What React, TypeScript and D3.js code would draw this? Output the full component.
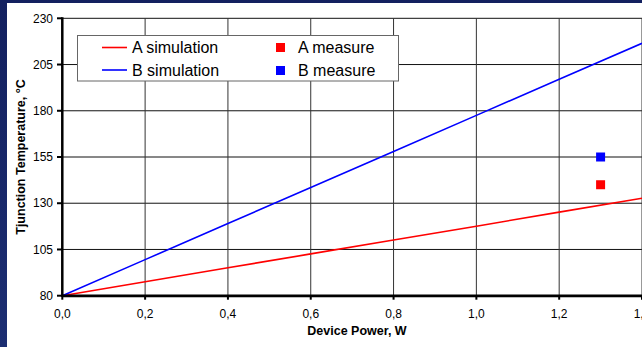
import React from "react";
import * as d3 from "d3";

const powerW = [0.0, 0.2, 0.4, 0.6, 0.8, 1.0, 1.2, 1.4];
const aSimulation = [80, 87.5, 95.1, 102.6, 110.1, 117.6, 125.2, 132.7];
const bSimulation = [80, 99.5, 119.0, 138.5, 158.0, 177.5, 197.0, 216.5];
const aMeasure = [{ x: 1.3, y: 140 }];
const bMeasure = [{ x: 1.3, y: 155 }];
const yTicks = [80, 105, 130, 155, 180, 205, 230];
const xTicks = [0, 0.2, 0.4, 0.6, 0.8, 1.0, 1.2, 1.4];

const W = 642;
const H = 347;
const FONT = "'Liberation Sans', Arial, sans-serif";

export default function App() {
  const x = d3.scaleLinear().domain([0, 1.4]).range([62.3, 642]);
  const y = d3.scaleLinear().domain([80, 230]).range([295.7, 18.3]);
  const line = d3
    .line<number>()
    .x((_, i) => x(powerW[i]))
    .y((d) => y(d));
  const fmt = (v: number) => v.toFixed(1).replace(".", ",");

  return (
    <div style={{ position: "fixed", left: 0, top: 0 }}>
      <svg width={W} height={H} style={{ display: "block" }}>
        <defs>
          <linearGradient id="navy" x1="0" y1="0" x2="0" y2="1">
            <stop offset="0" stopColor="#13205f" />
            <stop offset="1" stopColor="#1c2e72" />
          </linearGradient>
        </defs>
        <rect x={0} y={0} width={W} height={H} fill="url(#navy)" />
        <rect x={7} y={3} width={W - 7} height={H - 3} fill="#ffffff" />

        {/* horizontal gridlines */}
        {yTicks.map((t) => (
          <line key={"hy" + t} x1={x(0)} x2={W} y1={y(t)} y2={y(t)} stroke="#111" strokeWidth={1} />
        ))}
        {/* vertical gridlines */}
        {xTicks.slice(1).map((t) => (
          <line key={"vx" + t} x1={x(t)} x2={x(t)} y1={y(230)} y2={y(80)} stroke="#333" strokeWidth={1} />
        ))}

        {/* series lines */}
        <path d={line(aSimulation) || ""} fill="none" stroke="#ff0000" strokeWidth={1.6} />
        <path d={line(bSimulation) || ""} fill="none" stroke="#0000ff" strokeWidth={1.6} />

        {/* measures */}
        {aMeasure.map((p, i) => (
          <rect key={"am" + i} x={x(p.x) - 4.5} y={y(p.y) - 4.5} width={9} height={9} fill="#ff0000" />
        ))}
        {bMeasure.map((p, i) => (
          <rect key={"bm" + i} x={x(p.x) - 4.5} y={y(p.y) - 4.5} width={9} height={9} fill="#0000ff" />
        ))}

        {/* axes */}
        <line x1={x(0)} x2={W} y1={y(80) + 1.5} y2={y(80) + 1.5} stroke="#bbb" strokeWidth={1.5} />
        <line x1={x(0)} x2={W} y1={y(80)} y2={y(80)} stroke="#000" strokeWidth={2.5} />
        <line x1={x(0)} x2={x(0)} y1={y(230) - 1} y2={y(80) + 1} stroke="#000" strokeWidth={2.5} />

        {/* y ticks */}
        {yTicks.map((t) => (
          <g key={"yt" + t}>
            <line x1={57} x2={x(0)} y1={y(t)} y2={y(t)} stroke="#000" strokeWidth={2} />
            <text x={53} y={y(t) + 4.2} textAnchor="end" fontFamily={FONT} fontSize={12} fill="#000">
              {t}
            </text>
          </g>
        ))}
        {/* x ticks */}
        {xTicks.map((t) => (
          <g key={"xt" + t}>
            <line x1={x(t)} x2={x(t)} y1={y(80)} y2={y(80) + 4} stroke="#000" strokeWidth={2} />
            <text x={x(t)} y={317.5} textAnchor="middle" fontFamily={FONT} fontSize={12} fill="#000">
              {fmt(t)}
            </text>
          </g>
        ))}

        {/* axis titles */}
        <text x={357} y={335} textAnchor="middle" fontFamily={FONT} fontSize={12.5} fontWeight="bold" fill="#000">
          Device Power, W
        </text>
        <text
          transform={`translate(24.5, 157) rotate(-90)`}
          textAnchor="middle"
          fontFamily={FONT}
          fontSize={12.5}
          fontWeight="bold"
          fill="#000"
        >
          Tjunction Temperature, °C
        </text>

        {/* legend */}
        <rect x={77.5} y={35.5} width={321} height={45.5} fill="#fff" stroke="#666" strokeWidth={1} />
        <line x1={102} x2={127} y1={47.5} y2={47.5} stroke="#ff0000" strokeWidth={1.6} />
        <line x1={102} x2={127} y1={70} y2={70} stroke="#0000ff" strokeWidth={1.6} />
        <text x={132} y={53.3} fontFamily={FONT} fontSize={16} fill="#000">A simulation</text>
        <text x={132} y={76} fontFamily={FONT} fontSize={16} fill="#000">B simulation</text>
        <rect x={276} y={43} width={9} height={9} fill="#ff0000" />
        <rect x={276} y={66} width={9} height={9} fill="#0000ff" />
        <text x={298} y={53.3} fontFamily={FONT} fontSize={16} fill="#000">A measure</text>
        <text x={298} y={76} fontFamily={FONT} fontSize={16} fill="#000">B measure</text>
      </svg>
    </div>
  );
}
